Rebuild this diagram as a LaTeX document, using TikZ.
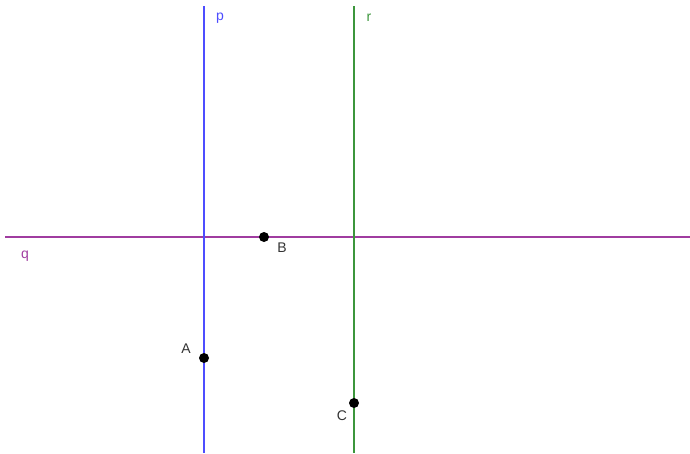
\documentclass[tikz,border=0pt]{standalone}
\usepackage{fontspec}
\setmainfont{Liberation Sans}
\usetikzlibrary{positioning}

\definecolor{lineblue}{RGB}{77,77,255}
\definecolor{linegreen}{RGB}{60,150,60}
\definecolor{linepurple}{RGB}{160,60,160}

\begin{document}
\begin{tikzpicture}[
        x=1pt, y=-1pt,
        font=\fontsize{14}{16}\selectfont,
        gline/.style={line width=2.4pt},
        pt/.style={circle, fill=black, inner sep=0pt, minimum size=10pt},
        lbl/.style={inner sep=0pt, text=black!80}
    ]
        \useasboundingbox (0,0) rectangle (690,453);

        % Line ends
        \coordinate (p_top) at (204,6);
        \coordinate (p_bot) at (204,453);
        \coordinate (r_top) at (354,6);
        \coordinate (r_bot) at (354,453);
        \coordinate (q_left) at (5,237);
        \coordinate (q_right) at (690,237);

        % Lines
        \draw[gline, linepurple] (q_left) -- (q_right);
        \draw[gline, lineblue] (p_top) -- (p_bot);
        \draw[gline, linegreen] (r_top) -- (r_bot);

        % Line labels
        \node[lbl, text=lineblue] (lbl_p) at (220,18) {p};
        \node[lbl, text=linegreen] (lbl_r) at (369,18) {r};
        \node[lbl, text=linepurple] (lbl_q) at (25,256) {q};

        % Points
        \node[pt] (B) at (264,237) {};
        \node[pt] (A) at (204,358) {};
        \node[pt] (C) at (354,403) {};

        % Point labels
        \node[lbl] (lbl_B) at (282,248) {B};
        \node[lbl] (lbl_A) at (186,349) {A};
        \node[lbl] (lbl_C) at (342,416) {C};
    \end{tikzpicture}
\end{document}
